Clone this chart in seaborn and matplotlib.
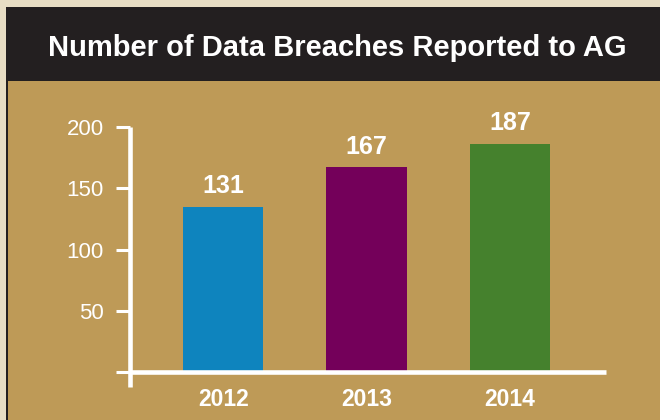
import matplotlib
matplotlib.use("Agg")
import matplotlib.pyplot as plt
from matplotlib.patches import Rectangle
import seaborn as sns
import pandas as pd

years = ["2012", "2013", "2014"]
bar_heights = [135, 167, 186]          # bar heights as drawn in the picture
value_labels = ["131", "167", "187"]   # printed value labels
bar_colors = ["#0E84BE", "#74005A", "#45812D"]
y_ticks = [0, 50, 100, 150, 200]
y_tick_labels = ["", "50", "100", "150", "200"]
title = "Number of Data Breaches Reported to AG"

sns.set_style("white")
plt.rcParams["font.family"] = ["Liberation Sans", "DejaVu Sans"]

W, H = 660, 420
fig = plt.figure(figsize=(W / 100, H / 100), dpi=100)
fig.patch.set_facecolor("#E7DDC4")

def px_rect(x0, y0, x1, y1, color):
    fig.patches.append(Rectangle((x0 / W, 1 - y1 / H), (x1 - x0) / W, (y1 - y0) / H,
                                 transform=fig.transFigure, facecolor=color,
                                 edgecolor="none", zorder=-10))

gold = "#BE9A57"
px_rect(6, 7, 660, 420, "#231F20")
px_rect(8, 81, 660, 420, gold)
fig.text(337 / W, 1 - 48 / H, title, ha="center", va="center", color="white",
         fontsize=21, fontweight="bold", zorder=5)

ax = fig.add_axes([130 / W, (H - 387) / H, 476 / W, 260 / H])
ax.set_zorder(2)
ax.set_facecolor("none")

df = pd.DataFrame({"year": years, "breaches": bar_heights})
sns.barplot(data=df, x="year", y="breaches", hue="year", palette=bar_colors,
            width=0.56, legend=False, ax=ax, saturation=1, linewidth=0,
            edgecolor="none")

ax.set_xlim(-0.65, 2.67)
ax.set_ylim(-12, 200)
for s in ["top", "right"]:
    ax.spines[s].set_visible(False)
ax.spines["bottom"].set_position(("data", 0))
ax.spines["left"].set_bounds(-12, 200)
for s in ["left", "bottom"]:
    ax.spines[s].set_color("white")
    ax.spines[s].set_linewidth(3.3)
    ax.spines[s].set_capstyle("butt")

ax.set_yticks(y_ticks)
ax.set_yticklabels(y_tick_labels)
ax.tick_params(axis="y", colors="white", labelcolor="white", length=10, width=2.2,
               pad=9, labelsize=16, left=True, direction="out")
ax.tick_params(axis="x", length=0, pad=11, labelsize=16.5, labelcolor="white")
for lbl in ax.get_xticklabels():
    lbl.set_fontweight("bold")
ax.set_xlabel("")
ax.set_ylabel("")

for i, (h, lab) in enumerate(zip(bar_heights, value_labels)):
    ax.text(i, h + 17, lab, ha="center", va="center", color="white",
            fontsize=18, fontweight="bold", clip_on=False)

fig.savefig("out.png", dpi=100, facecolor=fig.get_facecolor())
